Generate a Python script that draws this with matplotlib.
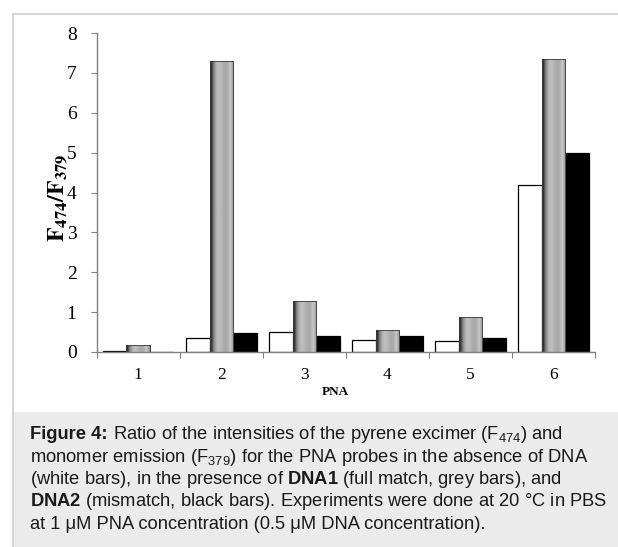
import matplotlib.pyplot as plt
import matplotlib.patches as mpatches
import matplotlib.lines as mlines
import numpy as np

plt.rcParams['mathtext.fontset'] = 'custom'
plt.rcParams['mathtext.rm'] = 'Liberation Sans'
plt.rcParams['mathtext.bf'] = 'Liberation Sans:bold'

# data
pna = ['1', '2', '3', '4', '5', '6']
no_dna = [0.02, 0.36, 0.51, 0.29, 0.27, 4.19]
dna1 = [0.18, 7.29, 1.29, 0.54, 0.89, 7.34]
dna2 = [0.01, 0.48, 0.41, 0.39, 0.35, 4.98]
y_ticks = [0, 1, 2, 3, 4, 5, 6, 7, 8]

W, H = 618, 547
fig = plt.figure(figsize=(W / 100, H / 100), dpi=100)

# outer frame and caption box
fig.add_artist(mlines.Line2D([13 / W, 1], [1 - 14 / H, 1 - 14 / H], color='#d6d6d6', lw=1.5))
fig.add_artist(mlines.Line2D([13 / W, 13 / W], [0, 1 - 14 / H], color='#d6d6d6', lw=1.5))
fig.add_artist(mpatches.Rectangle((13 / W, 0), 1 - 13 / W, 1 - 412 / H,
                                  transform=fig.transFigure, color='#ebebeb', lw=0))

ax = fig.add_axes([96.7 / W, 1 - 352 / H, (595 - 96.7) / W, (352 - 33) / H])

x = np.arange(1, len(pna) + 1)
w = 0.283
ax.bar(x - w, no_dna, w, color='white', edgecolor='black', lw=0.9, zorder=2)
grey_bars = ax.bar(x, dna1, w, color='#b0b0b0', edgecolor='#404040', lw=0.6, zorder=2)
ax.bar(x + w, dna2, w, color='black', edgecolor='black', lw=0.9, zorder=2)

# cylinder-like shading of the grey bars
levels = np.array([0.13, 0.3, 0.5, 0.62, 0.7, 0.74, 0.74, 0.72, 0.69, 0.67,
                   0.66, 0.67, 0.72, 0.78, 0.7, 0.6])
grad = levels[np.newaxis, :]
for b in grey_bars:
    x0, y0 = b.get_x(), b.get_y()
    im = ax.imshow(grad, cmap='gray', vmin=0, vmax=1, aspect='auto', interpolation='bilinear',
                   extent=(x0, x0 + b.get_width(), y0, y0 + b.get_height()), zorder=2.5)
    im.set_clip_path(b)
    ax.add_patch(mpatches.Rectangle((x0, y0), b.get_width(), b.get_height(),
                                    fill=False, edgecolor='#3a3a3a', lw=0.6, zorder=3))

ax.set_xlim(0.5, 6.5)
ax.set_ylim(0, 8)
for s in ['top', 'right']:
    ax.spines[s].set_visible(False)
for s in ['left', 'bottom']:
    ax.spines[s].set_color('#808080')
    ax.spines[s].set_linewidth(1.0)

ax.set_yticks(y_ticks)
ax.set_yticklabels([str(t) for t in y_ticks], family='Liberation Serif', fontsize=14)
ax.tick_params(axis='y', direction='out', length=4.5, width=0.8, color='#808080', pad=10)

ax.set_xticks(np.arange(0.5, 7, 1))
ax.set_xticklabels([])
ax.set_xticks(x, minor=True)
ax.set_xticklabels(pna, minor=True, family='Liberation Serif', fontsize=12.5)
ax.tick_params(axis='x', which='major', direction='out', length=4, width=0.8, color='#808080')
ax.tick_params(axis='x', which='minor', length=0, pad=11)

fig.text(335 / W, 1 - 392 / H, 'PNA', family='Liberation Serif', weight='bold', fontsize=9.5,
         ha='center', va='center')
fig.text(58 / W, 1 - 198 / H, r'$\mathbf{F_{474}/F_{379}}$', math_fontfamily='stix',
         fontsize=17, rotation=90, ha='center', va='center')

# caption
cap_size = 13.2
line_gap = 22.5
lines = [
    r' Ratio of the intensities of the pyrene excimer (F$_{474}$) and',
    r'monomer emission (F$_{379}$) for the PNA probes in the absence of DNA',
    r'(white bars), in the presence of $\mathbf{DNA1}$ (full match, grey bars), and',
    r'$\mathbf{DNA2}$ (mismatch, black bars). Experiments were done at 20 °C in PBS',
    'at 1 μM PNA concentration (0.5 μM DNA concentration).',
]
renderer = fig.canvas.get_renderer()
head = fig.text(30 / W, 1 - 439 / H, 'Figure 4:', family='Liberation Sans', weight='bold',
                fontsize=cap_size, ha='left', va='baseline', color='#1a1a1a')
head_end = head.get_window_extent(renderer).x1
for i, t in enumerate(lines):
    x_start = head_end / W + 1 / W if i == 0 else 30 / W
    fig.text(x_start, 1 - (439 + line_gap * i) / H, t, family='Liberation Sans', fontsize=cap_size,
             ha='left', va='baseline', color='#1a1a1a')

fig.savefig('out.png', dpi=100)
